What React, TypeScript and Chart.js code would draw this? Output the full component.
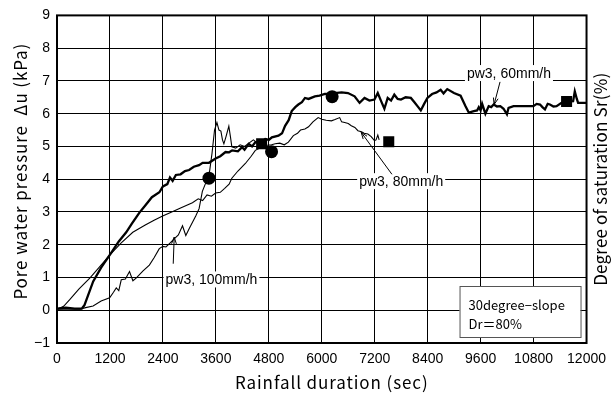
import React, { useEffect, useRef } from 'react';
import { Chart, registerables } from 'chart.js';

Chart.register(...registerables);

// ---- data ----
const xMin = 0;
const xMax = 12000;
const xStep = 1200;
const yMin = -1;
const yMax = 9;
const yStep = 1;

const t60 = [0, 200, 400, 560, 620, 820, 1000, 1193, 1400, 1568, 1700, 1868, 2000, 2150, 2320, 2400, 2500, 2560, 2620, 2694, 2800, 2900, 2994, 3100, 3219, 3300, 3444, 3594, 3700, 3819, 3900, 3969, 4100, 4194, 4250, 4344, 4420, 4494, 4600, 4719, 4800, 4869, 5019, 5100, 5169, 5250, 5319, 5400, 5469, 5550, 5619, 5700, 5844, 5950, 6069, 6200, 6294, 6450, 6594, 6744, 6857, 6969, 7080, 7194, 7269, 7340, 7419, 7494, 7570, 7644, 7720, 7794, 7900, 8019, 8100, 8169, 8244, 8320, 8394, 8500, 8600, 8694, 8760, 8844, 8996, 9146, 9258, 9333, 9446, 9520, 9558, 9600, 9634, 9708, 9783, 9840, 9896, 9970, 10046, 10120, 10196, 10233, 10346, 10500, 10796, 10870, 10946, 11000, 11058, 11120, 11171, 11250, 11321, 11434, 11548, 11696, 11734, 11780, 11809, 12000];
const pu60 = [0.05, 0.08, 0.05, 0.05, 0.15, 0.88, 1.3, 1.68, 2.1, 2.38, 2.65, 2.98, 3.2, 3.45, 3.6, 3.78, 3.85, 4.05, 3.95, 4.13, 4.15, 4.25, 4.28, 4.38, 4.43, 4.5, 4.5, 4.63, 4.7, 4.83, 4.82, 4.88, 4.85, 4.98, 4.9, 5.08, 5.0, 5.13, 5.1, 5.23, 5.2, 5.28, 5.33, 5.4, 5.63, 5.8, 6.08, 6.2, 6.28, 6.35, 6.48, 6.45, 6.53, 6.55, 6.6, 6.6, 6.63, 6.65, 6.63, 6.53, 6.33, 6.48, 6.4, 6.43, 6.63, 6.4, 6.15, 6.48, 6.4, 6.58, 6.45, 6.43, 6.5, 6.48, 6.35, 6.23, 6.1, 6.3, 6.48, 6.6, 6.65, 6.73, 6.62, 6.75, 6.63, 6.55, 6.23, 6.03, 6.08, 6.1, 6.2, 6.1, 6.3, 6.0, 6.23, 6.2, 6.28, 6.22, 6.23, 6.15, 5.98, 6.18, 6.23, 6.23, 6.23, 6.3, 6.28, 6.2, 6.13, 6.3, 6.28, 6.22, 6.23, 6.33, 6.37, 6.38, 6.68, 6.45, 6.33, 6.33];

const t80 = [0, 150, 293, 500, 743, 950, 1193, 1450, 1718, 2000, 2200, 2394, 2600, 2800, 3069, 3200, 3300, 3400, 3500, 3594, 3700, 3800, 3900, 3962, 4100, 4269, 4400, 4494, 4600, 4719, 4862, 4944, 5050, 5150, 5244, 5356, 5450, 5518, 5618, 5700, 5800, 5918, 6000, 6100, 6219, 6300, 6406, 6450, 6519, 6600, 6669, 6750, 6819, 6900, 6960, 7044, 7120, 7194, 7230, 7270, 7300];
const pu80 = [0.03, 0.12, 0.33, 0.65, 0.98, 1.3, 1.68, 2.05, 2.38, 2.6, 2.75, 2.88, 3.0, 3.12, 3.28, 3.4, 3.35, 3.52, 3.48, 3.58, 3.6, 3.72, 3.85, 4.03, 4.25, 4.48, 4.7, 4.88, 4.95, 5.03, 5.05, 5.08, 5.1, 5.05, 5.13, 5.33, 5.4, 5.5, 5.53, 5.6, 5.75, 5.88, 5.83, 5.8, 5.78, 5.82, 5.88, 5.75, 5.73, 5.7, 5.63, 5.58, 5.48, 5.45, 5.4, 5.38, 5.3, 5.18, 5.2, 5.35, 5.2];

const t100 = [0, 300, 518, 650, 818, 1000, 1193, 1280, 1343, 1400, 1456, 1550, 1643, 1720, 1793, 1950, 2093, 2200, 2318, 2400, 2469, 2560, 2656, 2750, 2844, 2919, 3000, 3144, 3220, 3294, 3369, 3444, 3512, 3570, 3624, 3670, 3714, 3750, 3782, 3830, 3894, 3930, 3962, 4050, 4150, 4250, 4350, 4450, 4550, 4637];
const pu100 = [0.03, 0.03, 0.03, 0.08, 0.13, 0.28, 0.38, 0.55, 0.68, 0.6, 0.93, 0.95, 1.18, 0.9, 0.98, 1.2, 1.38, 1.6, 1.88, 1.95, 1.93, 2.05, 2.18, 2.3, 2.58, 2.28, 2.5, 2.88, 3.1, 3.63, 3.88, 4.1, 4.78, 5.5, 5.73, 5.5, 5.47, 5.2, 5.08, 5.3, 5.62, 5.3, 4.99, 4.95, 5.05, 5.0, 5.1, 5.2, 5.1, 5.08];

const circleT = [3444, 4862, 6235];
const circlePu = [4.03, 4.84, 6.52];
const squareT = [4637, 7518, 11548];
const squarePu = [5.08, 5.14, 6.37];

const noteText = ['pw3, 60mm/h', 'pw3, 80mm/h', 'pw3, 100mm/h'];
const noteT = [10242, 7800, 3500];
const notePu = [7.24, 3.94, 0.94];
const arrowFromT = [10040, 7590, 2634];
const arrowFromPu = [6.97, 4.15, 1.42];
const arrowToT = [9905, 6894, 2656];
const arrowToPu = [6.28, 5.43, 2.23];

const boxLines = ['30degree−slope', 'Dr＝80%'];
const xTitle = 'Rainfall duration (sec)';
const yTitle = 'Pore water pressure  Δu (kPa)';
const y2Title = 'Degree of saturation Sr(%)';

const TICK_FONT = '"Liberation Sans", Arial, sans-serif';
const TITLE_FONT = '"Noto Sans CJK JP", "Noto Sans", sans-serif';

const toPoints = (xs: number[], ys: number[]) => xs.map((x, i) => ({ x, y: ys[i] }));

const setSpacing = (ctx: any, v: string) => {
  try {
    ctx.letterSpacing = v;
  } catch (e) {
    /* ignore */
  }
};

const decorPlugin = {
  id: 'decor',
  afterDatasetsDraw(chart: any) {
    const { ctx, scales } = chart;
    const xs = scales.x;
    const ys = scales.y;
    ctx.save();
    ctx.font = `14px ${TICK_FONT}`;
    ctx.textAlign = 'center';
    ctx.textBaseline = 'middle';
    noteText.forEach((s, i) => {
      const px = xs.getPixelForValue(noteT[i]);
      const py = ys.getPixelForValue(notePu[i]);
      const w = ctx.measureText(s).width;
      ctx.fillStyle = '#fff';
      ctx.fillRect(px - w / 2 - 2, py - 8, w + 4, 16);
      ctx.fillStyle = '#000';
      ctx.fillText(s, px, py + 1);
      // arrow
      const x1 = xs.getPixelForValue(arrowFromT[i]);
      const y1 = ys.getPixelForValue(arrowFromPu[i]);
      const x2 = xs.getPixelForValue(arrowToT[i]);
      const y2 = ys.getPixelForValue(arrowToPu[i]);
      ctx.strokeStyle = '#000';
      ctx.lineWidth = 1;
      ctx.beginPath();
      ctx.moveTo(x1, y1);
      ctx.lineTo(x2, y2);
      const ang = Math.atan2(y2 - y1, x2 - x1);
      const hl = 7;
      ctx.moveTo(x2 - hl * Math.cos(ang - 0.35), y2 - hl * Math.sin(ang - 0.35));
      ctx.lineTo(x2, y2);
      ctx.lineTo(x2 - hl * Math.cos(ang + 0.35), y2 - hl * Math.sin(ang + 0.35));
      ctx.stroke();
    });
    ctx.restore();
  },
  afterDraw(chart: any) {
    const { ctx, chartArea: a } = chart;
    ctx.save();
    // frame
    ctx.strokeStyle = '#000';
    ctx.lineWidth = 2;
    ctx.strokeRect(a.left, a.top, a.right - a.left, a.bottom - a.top);
    // info box
    const bw = 121;
    const bh = 51;
    const bx = a.right - 6 - bw;
    const by = a.bottom - 6 - bh;
    ctx.fillStyle = '#fff';
    ctx.fillRect(bx, by, bw, bh);
    ctx.strokeStyle = '#555';
    ctx.lineWidth = 1;
    ctx.strokeRect(bx + 0.5, by + 0.5, bw, bh);
    ctx.fillStyle = '#000';
    ctx.font = `13px ${TITLE_FONT}`;
    ctx.textAlign = 'left';
    ctx.textBaseline = 'middle';
    ctx.fillText(boxLines[0], bx + 9, by + 19);
    ctx.fillText(boxLines[1], bx + 9, by + 38);
    // titles
    ctx.font = `17px ${TITLE_FONT}`;
    ctx.textAlign = 'center';
    ctx.textBaseline = 'middle';
    const midY = (a.top + a.bottom) / 2;
    setSpacing(ctx, '0.9px');
    ctx.fillText(xTitle, (a.left + a.right) / 2 + 10, a.bottom + 40);
    ctx.save();
    ctx.translate(21, midY - 8);
    ctx.rotate(-Math.PI / 2);
    ctx.fillText(yTitle, 0, 0);
    ctx.restore();
    setSpacing(ctx, '0.2px');
    ctx.save();
    ctx.translate(a.right + 14, midY);
    ctx.rotate(-Math.PI / 2);
    ctx.fillText(y2Title, 0, 0);
    ctx.restore();
    ctx.restore();
  },
};

export default function App() {
  const ref = useRef<HTMLCanvasElement | null>(null);
  useEffect(() => {
    document.body.style.margin = '0';
    const canvas = ref.current;
    if (!canvas) return;
    const lineDs = (label: string, xs: number[], ys: number[], w: number) => ({
      label,
      data: toPoints(xs, ys),
      showLine: true,
      borderColor: '#000',
      backgroundColor: '#000',
      borderWidth: w,
      pointRadius: 0,
      tension: 0,
    });
    const chart = new Chart(canvas, {
      type: 'scatter',
      data: {
        datasets: [
          lineDs('pw3, 60mm/h', t60, pu60, 2.3),
          lineDs('pw3, 80mm/h', t80, pu80, 1.1),
          lineDs('pw3, 100mm/h', t100, pu100, 1.1),
          {
            label: 'circles',
            data: toPoints(circleT, circlePu),
            showLine: false,
            pointStyle: 'circle',
            pointRadius: 6.5,
            borderWidth: 0,
            backgroundColor: '#000',
            borderColor: '#000',
          },
          {
            label: 'squares',
            data: toPoints(squareT, squarePu),
            showLine: false,
            pointStyle: 'rect',
            pointRadius: 7.8,
            borderWidth: 0,
            backgroundColor: '#000',
            borderColor: '#000',
          },
        ],
      },
      options: {
        responsive: false,
        animation: false,
        devicePixelRatio: 1,
        layout: { padding: { left: 0, right: 24, top: 9, bottom: 0 } },
        plugins: {
          legend: { display: false },
          tooltip: { enabled: false },
        },
        scales: {
          x: {
            type: 'linear',
            min: xMin,
            max: xMax,
            afterFit: (s: any) => {
              s.height = 53;
            },
            afterBuildTicks: (s: any) => {
              const arr = [];
              for (let v = xMin; v <= xMax; v += xStep) arr.push({ value: v });
              s.ticks = arr;
            },
            ticks: {
              autoSkip: false,
              maxRotation: 0,
              padding: 8,
              color: '#000',
              font: { family: TICK_FONT, size: 14 },
              callback: (v: any) => String(v),
            },
            grid: { color: '#000', lineWidth: 1, drawTicks: false },
            border: { display: false },
          },
          y: {
            type: 'linear',
            min: yMin,
            max: yMax,
            afterFit: (s: any) => {
              s.width = 57;
            },
            ticks: {
              stepSize: yStep,
              padding: 7,
              color: '#000',
              font: { family: TICK_FONT, size: 14 },
              callback: (v: any) => (v < 0 ? '−' + Math.abs(v) : String(v)),
            },
            grid: { color: '#000', lineWidth: 1, drawTicks: false },
            border: { display: false },
          },
        },
      },
      plugins: [decorPlugin],
    });
    return () => chart.destroy();
  }, []);
  return <canvas ref={ref} width={614} height={396} style={{ display: 'block', width: 614, height: 396 }} />;
}
